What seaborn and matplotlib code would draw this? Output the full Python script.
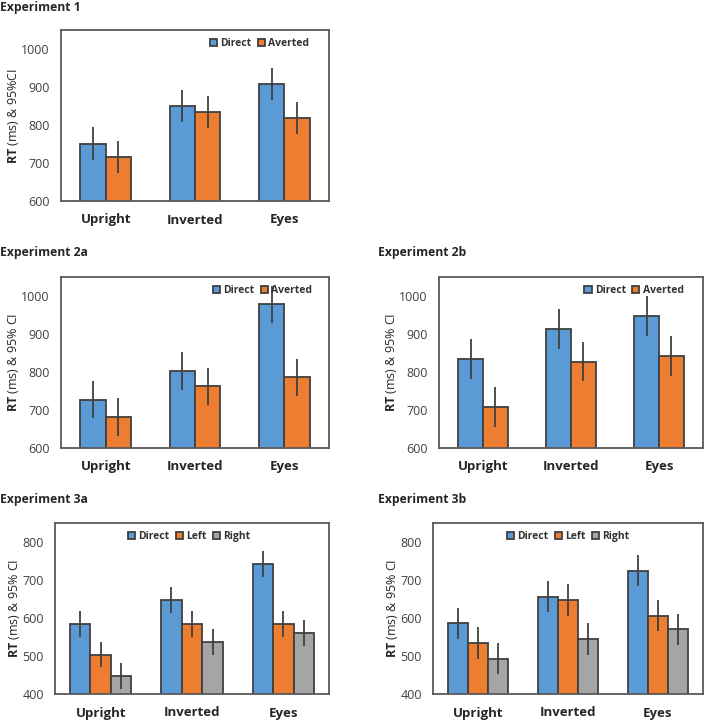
import numpy as np
import pandas as pd
import seaborn as sns
import matplotlib.pyplot as plt

conditions = ['Upright', 'Inverted', 'Eyes']

# experiment 1
e1_gaze = ['Direct', 'Averted']
e1_rt = [[750, 715], [849, 833], [906, 818]]
e1_ci = [[43, 42], [42, 42], [42, 42]]

# experiment 2a
e2a_gaze = ['Direct', 'Averted']
e2a_rt = [[727, 681], [802, 762], [977, 786]]
e2a_ci = [[49, 49], [49, 49], [49, 49]]

# experiment 2b
e2b_gaze = ['Direct', 'Averted']
e2b_rt = [[833, 708], [912, 827], [946, 842]]
e2b_ci = [[52, 53], [52, 52], [52, 52]]

# experiment 3a
e3a_gaze = ['Direct', 'Left', 'Right']
e3a_rt = [[584, 504, 448], [648, 585, 538], [743, 585, 560]]
e3a_ci = [[34, 34, 34], [34, 34, 34], [34, 34, 34]]

# experiment 3b
e3b_gaze = ['Direct', 'Left', 'Right']
e3b_rt = [[586, 535, 493], [657, 649, 545], [725, 607, 571]]
e3b_ci = [[42, 42, 41], [42, 42, 41], [41, 42, 41]]

colors = {'Direct': '#5B9BD5', 'Averted': '#ED7D31', 'Left': '#ED7D31', 'Right': '#A5A5A5'}

sns.set_style('white')
plt.rcParams['font.family'] = ['Open Sans', 'DejaVu Sans']
plt.rcParams['mathtext.fontset'] = 'custom'
plt.rcParams['mathtext.bf'] = 'Open Sans:bold'
plt.rcParams['mathtext.rm'] = 'Open Sans'

W, H = 708, 721
fig = plt.figure(figsize=(W / 100, H / 100), dpi=100)


def box(l, t, r, b):
    return [l / W, 1 - b / H, (r - l) / W, (b - t) / H]


def panel(rect, title, tx, ty, gaze, rt, ci, ylim, yticks, ylabel, width, leg_loc, leg_anchor):
    ax = fig.add_axes(box(*rect))
    rows = []
    for i, c in enumerate(conditions):
        for j, g in enumerate(gaze):
            rows.append({'cond': c, 'gaze': g, 'rt': rt[i][j], 'ci': ci[i][j]})
    df = pd.DataFrame(rows)
    sns.barplot(data=df, x='cond', y='rt', hue='gaze', hue_order=gaze, order=conditions,
                palette=colors, errorbar=None, width=width, edgecolor='#404040',
                linewidth=1.3, ax=ax, saturation=1)
    # error bars at the bar centres
    for k, g in enumerate(gaze):
        cont = ax.containers[k]
        for i, p in enumerate(cont.patches):
            xc = p.get_x() + p.get_width() / 2
            ax.errorbar(xc, rt[i][k], yerr=ci[i][k], color='#404040', lw=1.3,
                        capsize=0, clip_on=False, zorder=5)
    ax.set_xlim(-0.5, 2.5)
    ax.set_ylim(*ylim)
    ax.set_yticks(yticks)
    ax.tick_params(axis='y', labelsize=9, pad=8, length=0, labelcolor='#404040')
    ax.tick_params(axis='x', labelsize=9.5, pad=9, length=0)
    for lab in ax.get_xticklabels():
        lab.set_fontweight('bold')
    ax.set_xlabel('')
    ax.set_ylabel(ylabel, fontsize=9, labelpad=0)
    for s in ax.spines.values():
        s.set_color('#595959')
        s.set_linewidth(1.3)
    leg = ax.legend(loc=leg_loc, bbox_to_anchor=leg_anchor, ncol=len(gaze), frameon=False,
                    fontsize=7.5, handlelength=0.7, handleheight=0.7, handletextpad=0.3,
                    columnspacing=0.6, borderaxespad=0.2)
    for t in leg.get_texts():
        t.set_fontweight('bold')
        t.set_color('#333333')
    fig.text(tx / W, 1 - ty / H, title, fontsize=8.7, fontweight='bold', va='center', ha='left')
    return ax


panel((61, 30, 329, 201), 'Experiment 1', 0, 7, e1_gaze, e1_rt, e1_ci,
      (600, 1049), [600, 700, 800, 900, 1000], r'$\bf{RT}$ (ms) & 95%CI', 0.567,
      'upper right', (0.95, 0.99))
panel((61, 277, 329, 448), 'Experiment 2a', 0, 252, e2a_gaze, e2a_rt, e2a_ci,
      (600, 1049), [600, 700, 800, 900, 1000], r'$\bf{RT}$ (ms) & 95% CI', 0.567,
      'upper right', (0.96, 0.99))
panel((439, 277, 703, 448), 'Experiment 2b', 378, 252, e2b_gaze, e2b_rt, e2b_ci,
      (600, 1049), [600, 700, 800, 900, 1000], r'$\bf{RT}$ (ms) & 95% CI', 0.567,
      'upper right', (0.95, 0.99))
panel((55, 523, 329, 694), 'Experiment 3a', 0, 499, e3a_gaze, e3a_rt, e3a_ci,
      (400, 851), [400, 500, 600, 700, 800], r'$\bf{RT}$ (ms) & 95% CI', 0.675,
      'upper center', (0.49, 0.99))
panel((433, 523, 703, 694), 'Experiment 3b', 378, 499, e3b_gaze, e3b_rt, e3b_ci,
      (400, 851), [400, 500, 600, 700, 800], r'$\bf{RT}$ (ms) & 95% CI', 0.675,
      'upper center', (0.5, 0.99))

fig.savefig('out.png', dpi=100)
